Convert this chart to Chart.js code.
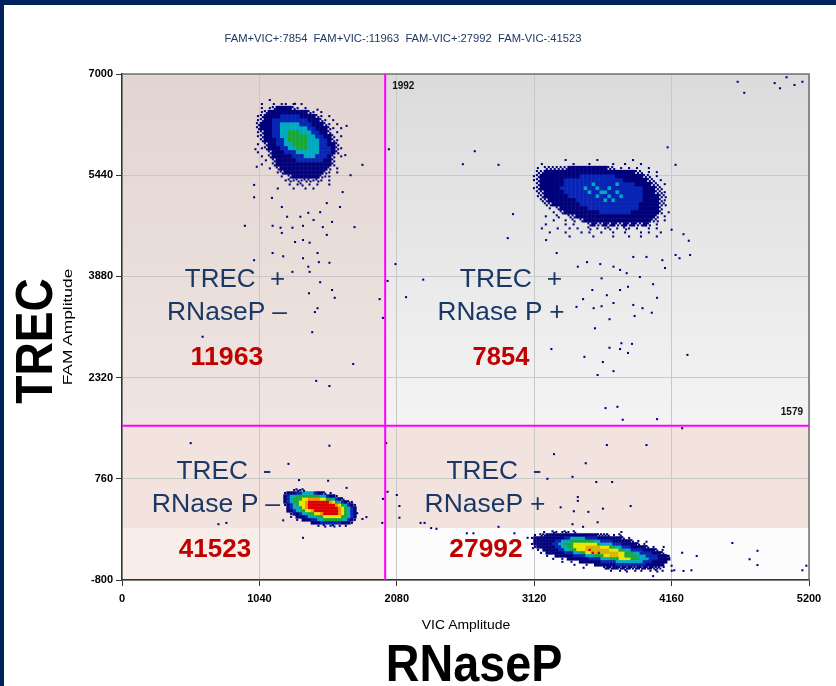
<!DOCTYPE html>
<html>
<head>
<meta charset="utf-8">
<script src="https://cdn.jsdelivr.net/npm/chart.js@4.4.1/dist/chart.umd.min.js"></script>
<style>
  html, body { margin: 0; padding: 0; }
  body { width: 836px; height: 686px; background: #00205f; position: relative; overflow: hidden; }
  #wrap { position: absolute; left: 4px; top: 5px; right: 0; bottom: 0; background: #fff; }
  #plot { position: absolute; left: 0; top: 0; }
  .lbl { position: absolute; white-space: pre; line-height: 1; font-family: "Liberation Sans", Arial, sans-serif; }
</style>
</head>
<body>
<div id="wrap"></div>
<canvas id="plot" width="836" height="686"></canvas>
<script>
// axis ranges and ticks
const vicTicks = [0, 1040, 2080, 3120, 4160, 5200];
const famTicks = [-800, 760, 2320, 3880, 5440, 7000];
const thresholdVIC = 1992;
const thresholdFAM = 1579;
const bandFAM = 0;

// droplet counts per quadrant
const quadrantNames = ['FAM+VIC+', 'FAM+VIC-', 'FAM-VIC+', 'FAM-VIC-'];
const quadrantCounts = [7854, 11963, 27992, 41523];

// droplet density, one char per cell
// ' ' none, '.' few, ':' some, b dense, B denser, c, g, y, d, o, r = rising density
const famPosCell = [30, 62];
const famPosOrigin = [1029, 6599];
const famPosRows = [
  "   .",
  " .  . .. . .",
  " . .:bbbb:. .",
  " .:bbbbbbbbbb:. .",
  ".:bbbbBBBBBbbbb:. .",
  ".:bbBBBBBBBBBbbb:. .",
  ":bbbBBcccccBBBbbb:. .",
  ":bbbBBcccccccBBbbb:. .",
  ".:bbBBccgggcccBBbb: .",
  ".:bbBBccgggggccBBbb: .",
  " :bbbBBcgggggcccBBb:.",
  ". :bbBBccggggcccBBbb:",
  " .:bbbBBccgggcccBBBb:.",
  ".  :bbbBBBccccccBBBb:",
  " . :bbbbbBBBcccBBBb: .",
  "  . :bbbbbBBBBBBBbb:",
  " .  :bbbbbbbbbbbbbb:",
  "   . :bbbbbbbbbbbb: .",
  "     .:bbbbbbbbbb:. .",
  "      . :bbbbbbb:..",
  "       .:.:.::.:. .",
  "        . .: . .  .",
  "     .   .  . ."
];

const bothPosCell = [30, 62];
const bothPosOrigin = [3118, 5674];
const bothPosRows = [
  "        .       .        .",
  "  .       .   .     .  .   .",
  " . ::::::bbbbbbbbbb:: . . .  .",
  " ::bbbbbbbbbbbbbbbbbbbbbbb:: . .",
  ".:bbbbbbbbbbBBBBBBBBBbbbbbbb:: .",
  ".:bbbbbbBBBBBBBBBBBBBBBbbbbbb:: .",
  " :bbbbbbBBBBBBBcBBBBBcBBBBbbbb:: .",
  ".:bbbbbBBBBBBcBBcBBcBBBBBBBBbbb::",
  " ::bbbbbBBBBBBcBBccBBcBBBBBBbbb::.",
  " .:bbbbbbBBBBBBBcBBcBBcBBBBBbbbb::",
  "  ::bbbbbbbBBBBBBBcBcBBBBBBBbbbb:.",
  "   ::bbbbbbbBBBBBBBBBBBBBBBbbbbb::",
  "    . :bbbbbbbBBBBBBBBBBBBBbbbbb:",
  "     . :bbbbbbbbbBBBBBBBBbbbbbbb: .",
  "   .  :  ::bbbbbbbbbbbbbbbbbbbb: .",
  "     .  . : :bbbbbbbbbbbbbbbbb:: .",
  "   .    . .   :b::b:b::b:b::b: .",
  "  .   .  . .  : . .: . :. .  . .",
  "    .   .   . .  .  .  .   . .  .",
  "         .     .    .   .  .   ."
];

const bothNegCell = [23, 46];
const bothNegOrigin = [1234, 587];
const bothNegRows = [
  "   .:.:",
  ".bbbBBccccBbb: .",
  "bBccggggggggccBbb.",
  "bBcgggyyooooyyggcBb:",
  "bBcggyyorrrrrrroygcBb:.",
  ".bBcgyyorrrrrrrrroygcBb.",
  " bBccgyorrrrrrrrrroygcBb",
  " bbBccgyyorrrrrrrroygcBb",
  "  .bbBccggyyorrrrroygcBb",
  "  . bbbBcccggyyyyyyggcBb",
  "    . bbbBBccggggggccBb.",
  "         bbbBBBBBBBbbb.",
  "           . : .: . ."
];

const vicPosCell = [23, 46];
const vicPosOrigin = [3103, -60];
const vicPosRows = [
  "    .  :. .:. :",
  " . ::bbbbbbbbbbbbbbbbb:::: . :",
  ".bbbbbbbbbbBBcccccBBBBbbbbbbbb: .",
  " bbbbbbbBBcccggggggggccBBBBbbbbbb: .",
  ".bbbbbbBBccgggyyyyyyyygccccBBBbbbbb: .",
  " .bbbbbbBBccggyyyydddddyyyggccBBBbbbbb: .",
  "  . bbbbbBBccggyyydrddddddyyyggccBBBBbbbb: .",
  "   . bbbbbbBBBccggyyrdrddddddyygggccBBBBbbb:",
  "     .  bbbbbbBBBBcccgggyydddyyggggcccBBBBbbb.",
  "       .  . bbbbbbbBBBBcccgggyyyygggcccBBBbbbb",
  "          .  .  bbbbbbbBBBBBcccccccccBBBbbbbb",
  "              .   .  bbbbbbbBBBBBBBBBBbbbbbb",
  "                 .      :b:bb:b:b::b:b:b:::",
  "                          .  . :  . .  . : .  ."
];

// single droplets away from the clusters [VIC, FAM]
const strayDroplets = [
  [1310, 6540], [1480, 6450], [1700, 6200], [1690, 5750], [1820, 5600], [1730, 5440],
  [1010, 5840], [1020, 5570], [1000, 5290], [1000, 5100], [930, 4660], [1135, 5090],
  [1210, 4950], [1250, 4800], [1140, 4660], [1200, 4630], [1210, 4550], [1290, 4630],
  [1350, 4800], [1370, 4660], [1410, 4860], [1450, 4750], [1500, 4870], [1520, 4640],
  [1590, 4720], [1650, 4950], [1670, 5180], [1550, 5010], [1310, 4410], [1370, 4440],
  [1420, 4400], [1550, 4520], [1480, 4240], [1370, 4160], [1410, 4030], [1490, 4100],
  [1570, 4090], [1290, 3950], [1220, 4190], [1140, 4240], [1000, 4130], [1420, 3950],
  [1415, 3620], [1500, 3790], [1590, 3670], [1610, 3550], [1480, 3390], [1460, 3330],
  [1440, 3020], [1750, 2530], [1470, 2270], [1570, 2190], [610, 2950], [1760, 4640],
  [1950, 3530], [1975, 3240], [2010, 3810], [2020, 5840], [2070, 4070],
  [2670, 5810], [2580, 5610], [2850, 5600], [4130, 5870], [4190, 5600], [2960, 4840],
  [2920, 4470], [3210, 4440], [2280, 3830], [2150, 3560], [3290, 4240], [3450, 4030],
  [3520, 4100], [3620, 4070], [3630, 3850], [3720, 4030], [3770, 3980], [3820, 3930],
  [3870, 4180], [3970, 4180], [4090, 4130], [4190, 4210], [4220, 4160], [4300, 4210],
  [4290, 4430], [4250, 4530], [4160, 4600], [4110, 4010], [4020, 3760], [3920, 3870],
  [3830, 3720], [3770, 3670], [3670, 3590], [3560, 3670], [3490, 3530], [3440, 3410],
  [3570, 3390], [3630, 3420], [3720, 3470], [3870, 3440], [3940, 3390], [4010, 3320],
  [4050, 3550], [3880, 3270], [3690, 3220], [3580, 3080], [3690, 2780], [3770, 2760],
  [3830, 2700], [3780, 2850], [3860, 2840], [3500, 2640], [3640, 2560], [3600, 2360],
  [3720, 2420], [4280, 2670], [3250, 2760], [3660, 1850], [3750, 1870], [3790, 1670],
  [4050, 1680], [4240, 1540],
  [4660, 6880], [4710, 6710], [4940, 6860], [4980, 6780], [5030, 6950], [5090, 6830], [5150, 6880],
  [520, 1310], [1570, 1270], [1260, 990], [1340, 740], [1560, 730], [1700, 620],
  [1220, 120], [1370, -150], [730, 60], [790, 80], [1820, 140], [1850, 170],
  [1780, 230], [1970, 80], [1975, 450], [2000, 1310],
  [3270, 1140], [3670, 1280], [3970, 1280], [3510, 1000], [3220, 760], [3410, 790],
  [3590, 710], [3710, 710], [2010, 560], [2080, 510], [2100, 340], [2100, 160],
  [3320, 320], [3420, 260], [3450, 420], [3450, 480], [3530, 250], [3640, 300],
  [3850, 340], [3600, 90], [2260, 80], [2290, 80], [2340, 0], [2380, -10],
  [2610, -80], [2660, -80], [2850, 20], [2970, -80], [3070, -150], [3110, -310],
  [3410, 60], [3490, 20], [3780, -60], [3970, -210], [4100, -290], [4130, -430],
  [4160, -580], [4180, -650], [4250, -660], [4310, -650], [4240, -380], [4350, -430],
  [4620, -230], [4750, -480], [4810, -350], [4810, -570], [5150, -650], [5180, -580],
  [4020, -740], [4100, -600]
];

const levelColors = {
  '.': '#00007a', ':': '#00007a', b: '#00007a', B: '#0824b4', c: '#00a8c0',
  g: '#18a838', y: '#e6e600', d: '#d2b400', o: '#ff8c00', r: '#dc0000'
};
const levelOrder = ['.', ':', 'b', 'B', 'c', 'g', 'y', 'd', 'o', 'r'];

const clusters = [
  { origin: famPosOrigin, cell: famPosCell, rows: famPosRows },
  { origin: bothPosOrigin, cell: bothPosCell, rows: bothPosRows },
  { origin: bothNegOrigin, cell: bothNegCell, rows: bothNegRows },
  { origin: vicPosOrigin, cell: vicPosCell, rows: vicPosRows }
];

const byLevel = {};
levelOrder.forEach(k => byLevel[k] = []);
clusters.forEach(cl => {
  cl.rows.forEach((row, r) => {
    [...row].forEach((ch, c) => {
      if (!byLevel[ch]) return;
      const x = cl.origin[0] + c * cl.cell[0];
      const y = cl.origin[1] - r * cl.cell[1];
      if (ch === '.') {
        byLevel[ch].push({ x, y });
      } else if (ch === ':') {
        byLevel[ch].push({ x: x - cl.cell[0] / 4, y: y + cl.cell[1] / 4 });
        byLevel[ch].push({ x: x + cl.cell[0] / 4, y: y - cl.cell[1] / 4 });
      } else {
        byLevel[ch].push({ x, y, w: cl.cell[0], h: cl.cell[1] });
      }
    });
  });
});

function cellRadius(ctx) {
  const p = ctx.raw;
  if (!p || !p.w) return 1.45;
  const sc = ctx.chart.scales;
  const w = Math.abs(sc.x.getPixelForValue(p.w) - sc.x.getPixelForValue(0));
  const h = Math.abs(sc.y.getPixelForValue(0) - sc.y.getPixelForValue(p.h));
  return (Math.max(w, h) + 0.4) / Math.SQRT2;
}

const datasets = [{
  label: 'stray',
  data: strayDroplets.map(d => ({ x: d[0], y: d[1] })),
  backgroundColor: '#00007a'
}];
levelOrder.forEach(k => {
  datasets.push({ label: k, data: byLevel[k], backgroundColor: levelColors[k] });
});
datasets.forEach(ds => {
  ds.pointStyle = 'rect';
  ds.borderWidth = 0;
  ds.pointRadius = cellRadius;
  ds.pointHoverRadius = cellRadius;
});

const tickFont = { family: '"Liberation Sans Narrow", "Liberation Sans", Arial, sans-serif', size: 11, weight: 'bold' };

const quadrants = {
  id: 'quadrants',
  beforeDraw(chart) {
    const { ctx, chartArea: a, scales: { x, y } } = chart;
    const tx = x.getPixelForValue(thresholdVIC);
    const ty = y.getPixelForValue(thresholdFAM);
    const by = y.getPixelForValue(bandFAM);
    ctx.save();
    let g = ctx.createLinearGradient(0, a.top, 0, ty);
    g.addColorStop(0, '#e2d5d1');
    g.addColorStop(1, '#f0e5e2');
    ctx.fillStyle = g;
    ctx.fillRect(a.left, a.top, tx - a.left, ty - a.top);
    g = ctx.createLinearGradient(0, a.top, 0, ty);
    g.addColorStop(0, '#dbdbdb');
    g.addColorStop(1, '#f4f4f4');
    ctx.fillStyle = g;
    ctx.fillRect(tx, a.top, a.right - tx, ty - a.top);
    ctx.fillStyle = '#f3e3df';
    ctx.fillRect(a.left, ty, a.right - a.left, by - ty);
    ctx.fillStyle = '#f9edea';
    ctx.fillRect(a.left, by, tx - a.left, a.bottom - by);
    ctx.fillStyle = '#fcfcfc';
    ctx.fillRect(tx, by, a.right - tx, a.bottom - by);
    ctx.restore();
  },
  afterDatasetsDraw(chart) {
    const { ctx, chartArea: a, scales: { x, y } } = chart;
    const tx = x.getPixelForValue(thresholdVIC);
    const ty = y.getPixelForValue(thresholdFAM);
    ctx.save();
    ctx.strokeStyle = '#707070';
    ctx.lineWidth = 1.5;
    ctx.beginPath();
    ctx.moveTo(a.left, a.top);
    ctx.lineTo(a.right, a.top);
    ctx.lineTo(a.right, a.bottom);
    ctx.stroke();
    ctx.strokeStyle = '#ff00ff';
    ctx.lineWidth = 2;
    ctx.beginPath();
    ctx.moveTo(tx, a.top);
    ctx.lineTo(tx, a.bottom);
    ctx.moveTo(a.left, ty);
    ctx.lineTo(a.right, ty);
    ctx.stroke();
    ctx.fillStyle = '#111';
    ctx.font = 'bold 10px "Liberation Sans Narrow", "Liberation Sans", Arial, sans-serif';
    ctx.textBaseline = 'middle';
    ctx.textAlign = 'left';
    ctx.fillText(String(thresholdVIC), tx + 7, a.top + 12);
    ctx.textAlign = 'right';
    ctx.fillText(String(thresholdFAM), a.right - 6, ty - 13);
    ctx.restore();
  }
};

new Chart(document.getElementById('plot'), {
  type: 'scatter',
  data: { datasets },
  plugins: [quadrants],
  options: {
    responsive: false,
    animation: false,
    devicePixelRatio: 1,
    events: [],
    layout: { padding: { left: 0, right: 27, top: 74, bottom: 66 } },
    plugins: { legend: { display: false }, tooltip: { enabled: false }, title: { display: false } },
    scales: {
      x: {
        type: 'linear', min: 0, max: 5200,
        afterBuildTicks: s => { s.ticks = vicTicks.map(v => ({ value: v })); },
        afterFit: s => { s.height = 40; },
        ticks: { font: tickFont, color: '#000', padding: 6, maxRotation: 0, callback: v => String(v) },
        grid: { color: '#c8c8c8', lineWidth: 1, tickColor: '#333', tickLength: 6 },
        border: { color: '#333', width: 1.5 }
      },
      y: {
        type: 'linear', min: -800, max: 7000,
        afterBuildTicks: s => { s.ticks = famTicks.map(v => ({ value: v })); },
        afterFit: s => { s.width = 122; },
        ticks: { font: tickFont, color: '#000', padding: 3, callback: v => String(v) },
        grid: { color: '#c8c8c8', lineWidth: 1, tickColor: '#333', tickLength: 6 },
        border: { color: '#333', width: 1.5 }
      }
    }
  }
});

// text around and inside the plot
const wrap = document.body;
function addLabel(text, cx, cy, font, color, width, rot) {
  const el = document.createElement('div');
  el.className = 'lbl';
  el.textContent = text;
  el.style.font = font;
  el.style.color = color;
  wrap.appendChild(el);
  const sx = width ? width / el.offsetWidth : 1;
  el.style.left = cx + 'px';
  el.style.top = cy + 'px';
  el.style.transform = 'translate(-50%,-50%) rotate(' + (rot || 0) + 'deg) scaleX(' + sx + ')';
}

const navy = '#1a3766';
const red = '#c00000';
const labelFont = '26px "Liberation Sans", Arial, sans-serif';
const countFont = 'bold 26px "Liberation Sans", Arial, sans-serif';

addLabel(quadrantNames.map((n, i) => n + ':' + quadrantCounts[i]).join('  '), 403, 38,
  '11px "Liberation Sans Narrow", "Liberation Sans", Arial, sans-serif', '#1f3864', 357);

addLabel('TREC  +', 235, 278, labelFont, navy, 100);
addLabel('RNaseP \u2013', 227, 311, labelFont, navy, 120);
addLabel(String(quadrantCounts[1]), 227, 356, countFont, red, 73);

addLabel('TREC  +', 511, 278, labelFont, navy, 102);
addLabel('RNase P +', 501, 311, labelFont, navy, 127);
addLabel(String(quadrantCounts[0]), 501, 356, countFont, red, 57);

addLabel('TREC  -', 224, 470, labelFont, navy, 95);
addLabel('RNase P \u2013', 216, 503, labelFont, navy, 128);
addLabel(String(quadrantCounts[3]), 215, 548, countFont, red, 72);

addLabel('TREC  -', 494, 470, labelFont, navy, 95);
addLabel('RNaseP +', 485, 503, labelFont, navy, 121);
addLabel(String(quadrantCounts[2]), 486, 548, countFont, red, 73);

addLabel('FAM Amplitude', 67, 327, '13px "Liberation Sans", Arial, sans-serif', '#000', 116, -90);
addLabel('VIC Amplitude', 466, 624, '13px "Liberation Sans", Arial, sans-serif', '#000', 88);
addLabel('TREC', 34, 341, 'bold 52px "Liberation Sans", Arial, sans-serif', '#000', 126, -90);
addLabel('RNaseP', 474, 663, 'bold 52px "Liberation Sans", Arial, sans-serif', '#000', 177);
</script>
</body>
</html>
